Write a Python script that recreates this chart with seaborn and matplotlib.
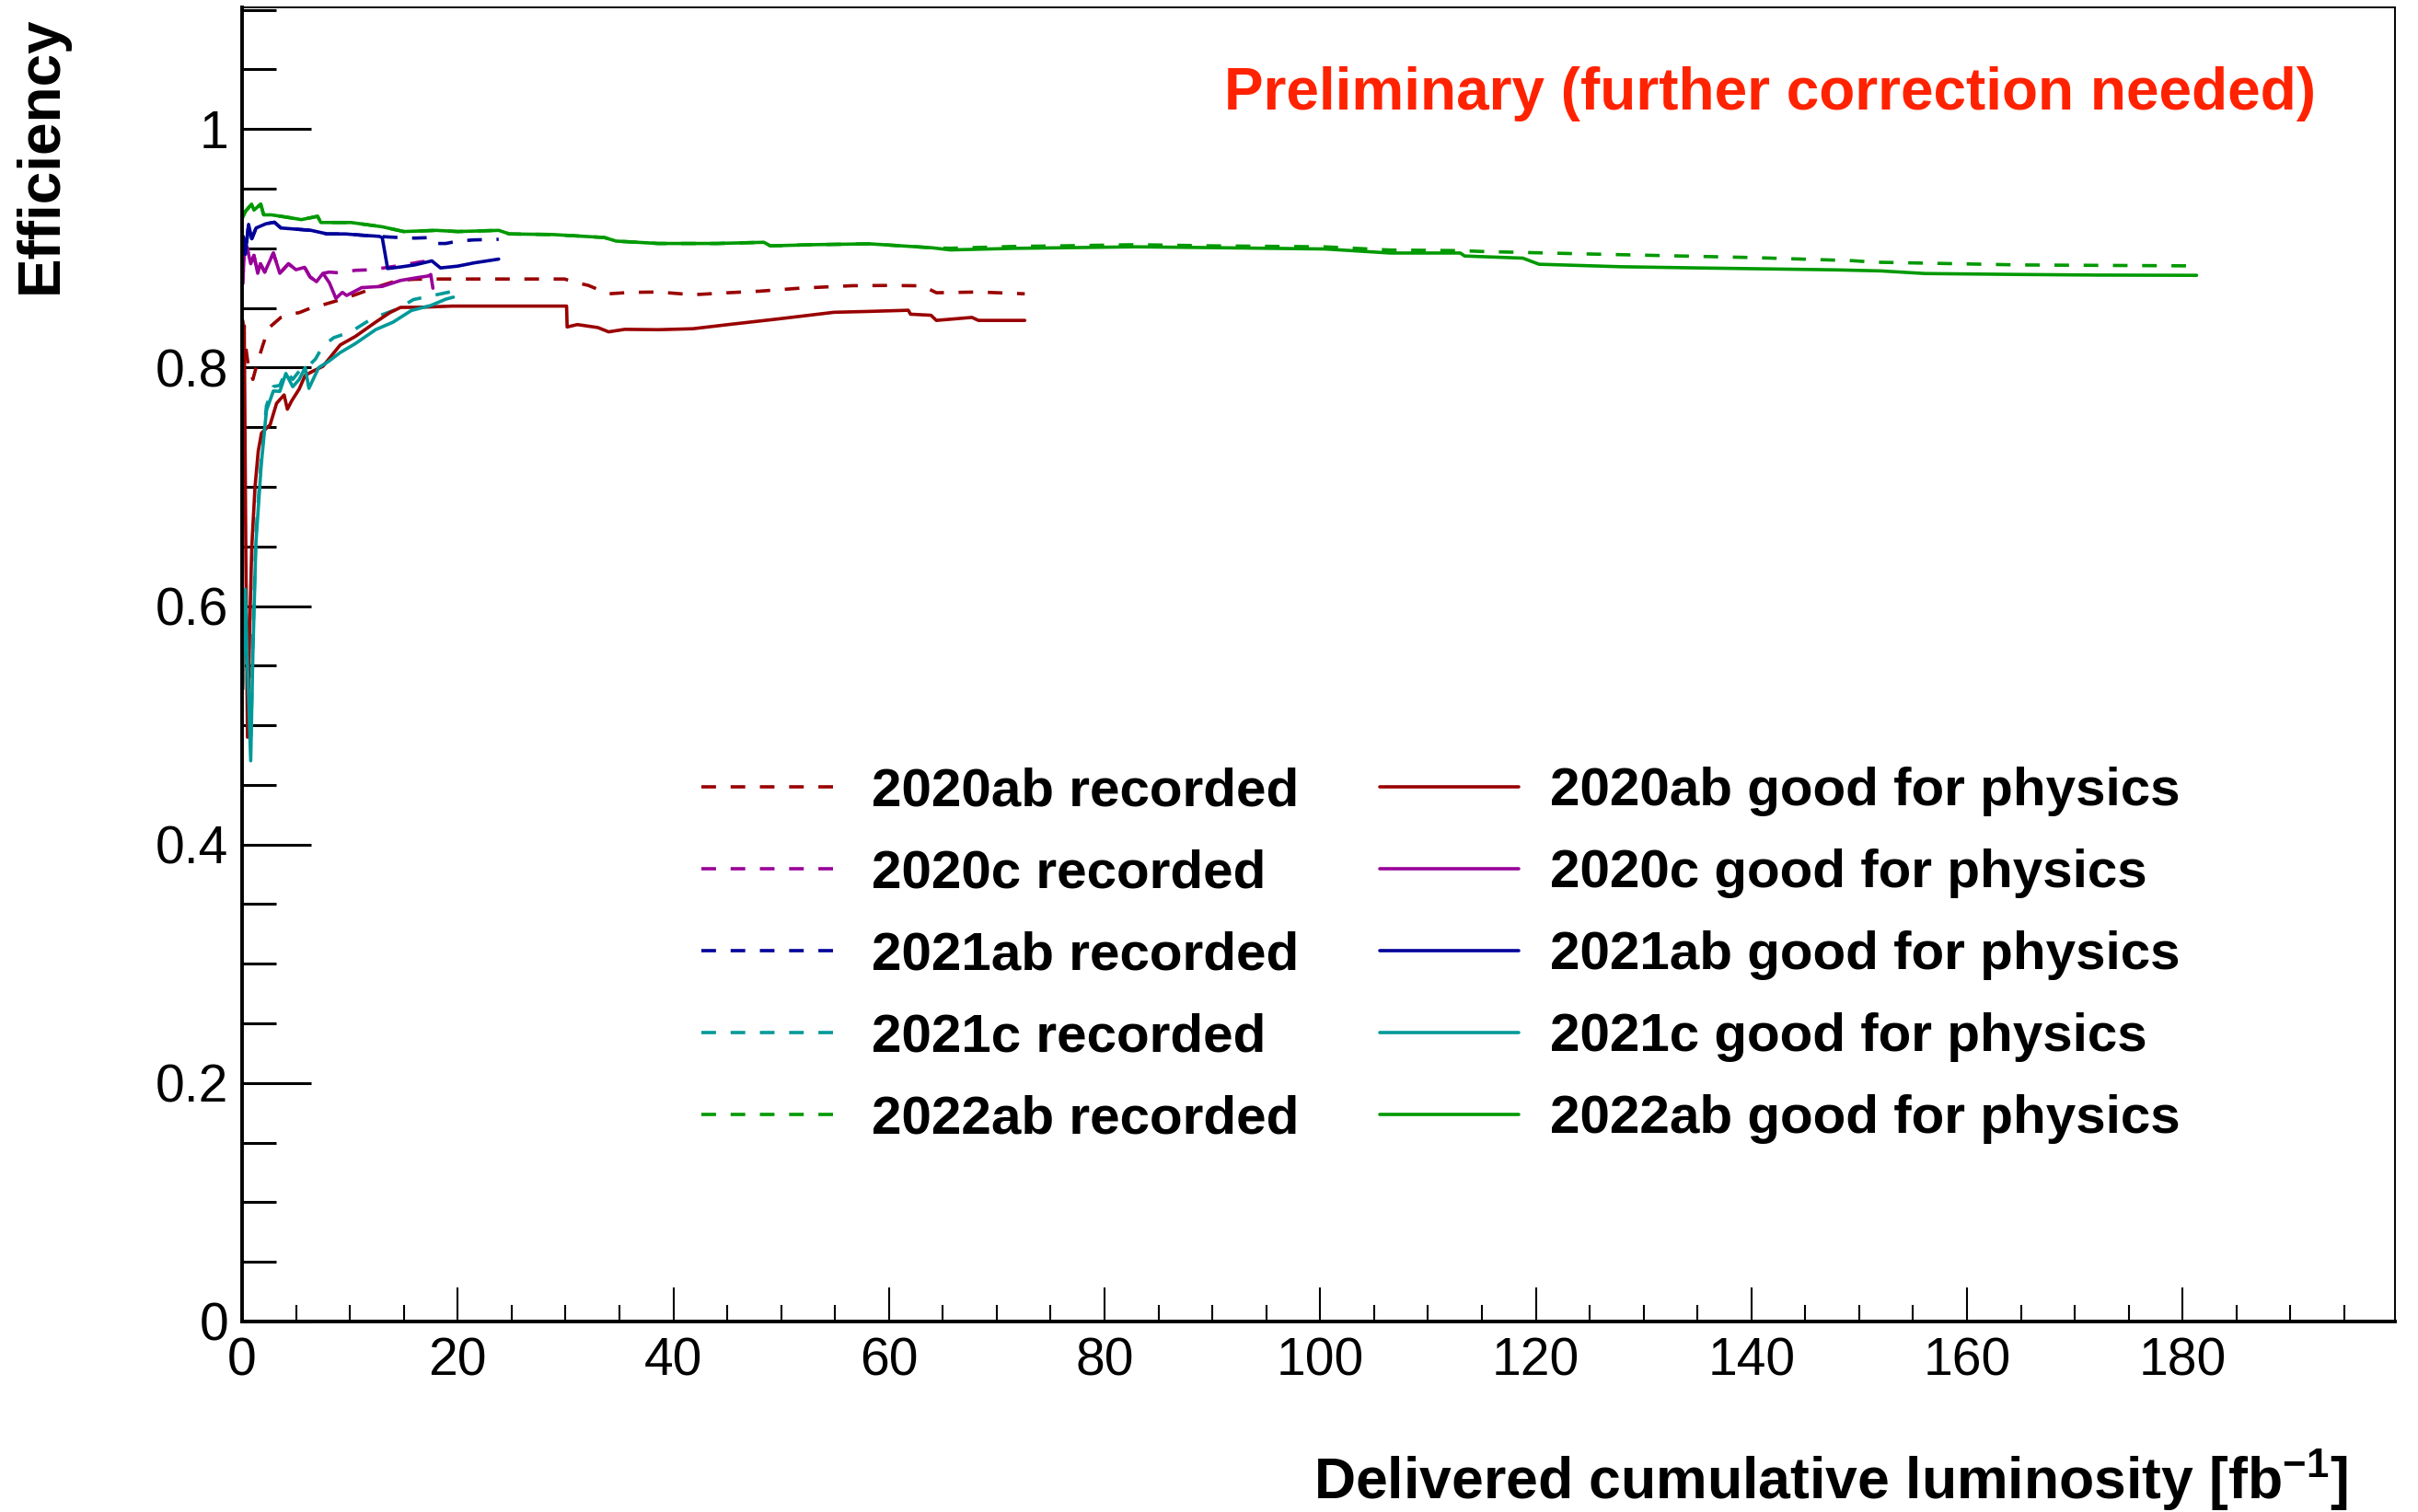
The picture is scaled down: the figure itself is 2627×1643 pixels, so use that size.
import numpy as np
import pandas as pd
import matplotlib
matplotlib.use("Agg")
import matplotlib.pyplot as plt
import seaborn as sns
from matplotlib.ticker import MultipleLocator, FuncFormatter

# ---------------- data ----------------
labels_run = ["2020ab", "2020c", "2021ab", "2021c", "2022ab"]
colors_run = ["#990000", "#990099", "#000099", "#009999", "#009900"]

# 2020ab
x_2020ab_rec = [0.05, 0.3, 0.6, 1.0, 1.45, 1.9, 2.45, 3.6, 4.4, 5.3, 6.4, 7.3, 8.8, 10.5, 12.4, 14.4,
                16.0, 17.6, 29.9, 31.1, 32.1, 34.0, 36.0, 38.6, 41.8, 45.1, 48.0, 51.7, 56.6, 60.0,
                63.1, 64.4, 68.3, 72.6]
y_2020ab_rec = [0.84, 0.82, 0.80, 0.79, 0.805, 0.818, 0.833, 0.842, 0.8447, 0.846, 0.850, 0.852, 0.856,
                0.861, 0.8672, 0.873, 0.874, 0.8742, 0.8742, 0.871, 0.8689, 0.8618, 0.863, 0.8633,
                0.861, 0.8627, 0.864, 0.8665, 0.8686, 0.8688, 0.8685, 0.8627, 0.8633, 0.8618]
x_2020ab_good = [0.05, 0.2, 0.35, 0.5, 0.7, 0.9, 1.2, 1.5, 1.8, 2.6, 3.2, 3.9, 4.2, 4.6, 5.3,
                 5.85, 6.5, 7.5, 9.1, 10.5, 12.4, 13.7, 14.7, 16.5, 18.0, 19.5, 30.1, 30.15, 31.1,
                 33.0, 34.0, 35.5, 38.6, 41.8, 45.1, 49.7, 54.9, 58.0, 61.8, 62.0, 63.9, 64.4, 67.7,
                 68.3, 72.6]
y_2020ab_good = [0.80, 0.835, 0.64, 0.49, 0.58, 0.65, 0.70, 0.73, 0.745, 0.752, 0.770, 0.777,
                 0.765, 0.772, 0.782, 0.7934, 0.7966, 0.801, 0.8189, 0.826, 0.8381, 0.846, 0.8504,
                 0.8505, 0.851, 0.8515, 0.8515, 0.834, 0.836, 0.8335, 0.8299, 0.832, 0.8317, 0.8325,
                 0.836, 0.8407, 0.8463, 0.847, 0.848, 0.8447, 0.8438, 0.8395, 0.842, 0.8395, 0.8395]

# 2020c
x_2020c_good = [0.05, 0.2, 0.45, 0.8, 1.1, 1.45, 1.7, 2.1, 2.9, 3.5, 4.3, 5.0, 5.8, 6.3, 6.9, 7.5,
                8.1, 8.7, 9.3, 9.7, 11.1, 13.0, 14.7, 16.0, 17.3, 17.5, 17.7]
y_2020c_good = [0.87, 0.895, 0.901, 0.887, 0.894, 0.879, 0.887, 0.880, 0.896, 0.879, 0.887, 0.882,
                0.884, 0.876, 0.872, 0.879, 0.871, 0.858, 0.863, 0.8604, 0.867, 0.868, 0.873, 0.875,
                0.8768, 0.878, 0.8665]
x_2020c_rec = [0.05, 0.2, 0.45, 0.8, 1.1, 1.45, 1.7, 2.1, 2.9, 3.5, 4.3, 5.0, 5.8, 6.3, 6.9, 7.5,
               8.1, 9.1, 10.5, 12.1, 13.5, 15.0, 16.5, 17.6]
y_2020c_rec = [0.87, 0.895, 0.901, 0.887, 0.894, 0.879, 0.887, 0.880, 0.896, 0.879, 0.887, 0.882,
               0.884, 0.876, 0.872, 0.879, 0.880, 0.8793, 0.8815, 0.882, 0.884, 0.886, 0.8885, 0.8896]

# 2021ab
x_2021ab_good = [0.1, 0.3, 0.6, 0.9, 1.3, 2.2, 3.0, 3.6, 5.0, 6.4, 7.9, 9.6, 11.0, 12.7, 13.0, 13.5,
                 14.7, 16.0, 17.6, 18.4, 20.0, 21.5, 23.8]
y_2021ab_good = [0.91, 0.895, 0.92, 0.908, 0.917, 0.9205, 0.9218, 0.917, 0.916, 0.915, 0.912, 0.912,
                 0.911, 0.910, 0.909, 0.883, 0.8843, 0.886, 0.8894, 0.8835, 0.885, 0.8877, 0.8909]
x_2021ab_rec = [0.1, 0.3, 0.6, 0.9, 1.3, 2.2, 3.0, 3.6, 5.0, 6.4, 7.9, 9.6, 11.0, 12.7, 13.5, 14.5,
                16.0, 17.6, 18.0, 18.9, 20.0, 21.5, 23.8]
y_2021ab_rec = [0.91, 0.895, 0.92, 0.908, 0.917, 0.9205, 0.9218, 0.917, 0.916, 0.915, 0.912, 0.912,
                0.911, 0.910, 0.9095, 0.909, 0.9085, 0.909, 0.904, 0.904, 0.906, 0.907, 0.9075]

# 2021c
x_2021c_good = [0.05, 0.3, 0.5, 0.8, 1.0, 1.28, 1.77, 2.26, 2.9, 3.5, 4.06, 4.7, 5.3, 5.85, 6.2, 7.1,
                8.0, 9.1, 10.5, 12.4, 14.0, 15.7, 17.5, 18.9, 19.6]
y_2021c_good = [0.53, 0.614, 0.55, 0.4702, 0.56, 0.6526, 0.7178, 0.764, 0.7803, 0.78, 0.795, 0.7839,
                0.79, 0.7999, 0.7825, 0.7999, 0.805, 0.8125, 0.82, 0.8318, 0.838, 0.8478, 0.852,
                0.8573, 0.859]
x_2021c_rec = [0.05, 0.3, 0.5, 0.8, 1.0, 1.28, 1.77, 2.26, 2.9, 3.5, 4.06, 4.7, 5.3, 6.0, 6.8, 7.5,
               8.5, 10.1, 12.1, 14.4, 15.9, 17.5, 19.4]
y_2021c_rec = [0.53, 0.61, 0.56, 0.48, 0.57, 0.66, 0.722, 0.768, 0.784, 0.785, 0.797, 0.79, 0.797,
               0.80, 0.807, 0.818, 0.825, 0.830, 0.8413, 0.849, 0.857, 0.860, 0.8636]

# 2022ab
x_2022ab_good = [0.0, 0.3, 0.88, 1.1, 1.73, 2.0, 2.73, 4.44, 5.5, 7.0, 7.3, 10.1, 13.0, 15.0, 18.0,
                 20.0, 23.8, 24.8, 28.8, 33.6, 34.7, 38.6, 44.0, 48.4, 49.0, 53.0, 58.2, 64.0, 65.7,
                 71.5, 76.0, 82.9, 90.0, 100.4, 106.5, 113.0, 113.4, 118.8, 120.3, 127.9, 135.0,
                 147.7, 152.0, 156.1, 165.0, 172.0, 181.3]
y_2022ab_good = [0.925, 0.9308, 0.937, 0.932, 0.937, 0.928, 0.928, 0.9256, 0.924, 0.9268, 0.9216,
                 0.9216, 0.918, 0.914, 0.915, 0.914, 0.915, 0.912, 0.9115, 0.909, 0.906, 0.904,
                 0.904, 0.905, 0.902, 0.903, 0.9037, 0.9004, 0.8986, 0.8999, 0.9004, 0.9012, 0.9005,
                 0.8994, 0.896, 0.896, 0.8935, 0.8917, 0.8866, 0.8845, 0.8835, 0.8819, 0.881, 0.8788,
                 0.878, 0.8775, 0.8773]
x_2022ab_rec = [0.0, 0.3, 0.88, 1.1, 1.73, 2.0, 2.73, 4.44, 5.5, 7.0, 7.3, 10.1, 13.0, 15.0, 18.0,
                20.0, 23.8, 24.8, 28.8, 33.6, 34.7, 38.6, 44.0, 48.4, 49.0, 53.0, 58.2, 64.0, 65.7,
                71.5, 76.0, 82.9, 90.0, 100.4, 106.5, 113.0, 115.0, 124.9, 140.1, 149.3, 151.5,
                165.0, 181.3]
y_2022ab_rec = [0.925, 0.9308, 0.937, 0.932, 0.937, 0.928, 0.928, 0.9256, 0.924, 0.9268, 0.9216,
                0.9216, 0.918, 0.914, 0.915, 0.914, 0.915, 0.912, 0.9115, 0.909, 0.906, 0.904,
                0.904, 0.905, 0.902, 0.903, 0.9037, 0.9004, 0.9, 0.9015, 0.902, 0.903, 0.902,
                0.9012, 0.8985, 0.898, 0.8973, 0.8952, 0.8922, 0.8896, 0.8883, 0.886, 0.8852]

x_rec = [x_2020ab_rec, x_2020c_rec, x_2021ab_rec, x_2021c_rec, x_2022ab_rec]
y_rec = [y_2020ab_rec, y_2020c_rec, y_2021ab_rec, y_2021c_rec, y_2022ab_rec]
x_good = [x_2020ab_good, x_2020c_good, x_2021ab_good, x_2021c_good, x_2022ab_good]
y_good = [y_2020ab_good, y_2020c_good, y_2021ab_good, y_2021c_good, y_2022ab_good]

# ---------------- style ----------------
sns.set_theme(style="white")
plt.rcParams["font.family"] = ["Liberation Sans", "DejaVu Sans"]
plt.rcParams["mathtext.fontset"] = "custom"
plt.rcParams["mathtext.rm"] = "Liberation Sans"
plt.rcParams["mathtext.bf"] = "Liberation Sans:bold"
plt.rcParams["axes.edgecolor"] = "black"
plt.rcParams["text.color"] = "black"
plt.rcParams["axes.labelcolor"] = "black"
plt.rcParams["xtick.color"] = "black"
plt.rcParams["ytick.color"] = "black"
plt.rcParams["legend.labelcolor"] = "black"

fig = plt.figure(figsize=(26.27, 16.43), dpi=100)
ax = fig.add_axes([0.10012, 0.12599, 0.89037, 0.86914])

LW = 2.6
DASH = [4.4, 4.4]

rec_lines = []
good_lines = []
for name, c, xs, ys in zip(labels_run, colors_run, x_rec, y_rec):
    df = pd.DataFrame({"lumi": xs, "eff": ys})
    sns.lineplot(data=df, x="lumi", y="eff", ax=ax, color=c, lw=LW, estimator=None,
                 sort=False, legend=False)
    ln = ax.get_lines()[-1]
    ln.set_dashes(DASH)
    ln.set_label(f"{name} recorded")
    rec_lines.append(ln)
for name, c, xs, ys in zip(labels_run, colors_run, x_good, y_good):
    df = pd.DataFrame({"lumi": xs, "eff": ys})
    sns.lineplot(data=df, x="lumi", y="eff", ax=ax, color=c, lw=LW, estimator=None,
                 sort=False, legend=False)
    ln = ax.get_lines()[-1]
    ln.set_label(f"{name} good for physics")
    good_lines.append(ln)

ax.set_xlim(0, 199.7)
ax.set_ylim(0, 1.102)

ax.xaxis.set_major_locator(MultipleLocator(20))
ax.xaxis.set_minor_locator(MultipleLocator(5))
ax.yaxis.set_major_locator(MultipleLocator(0.2))
ax.yaxis.set_minor_locator(MultipleLocator(0.05))


def yfmt(v, pos):
    if abs(v) < 1e-9:
        return "0"
    if abs(v - 1) < 1e-9:
        return "1"
    return f"{v:.1f}"


ax.yaxis.set_major_formatter(FuncFormatter(yfmt))
ax.xaxis.set_major_formatter(FuncFormatter(lambda v, p: f"{v:.0f}"))

ax.tick_params(axis="y", which="major", direction="in", length=54, width=2.2,
               labelsize=41, pad=10.8, left=True, right=False, colors="black")
ax.tick_params(axis="y", which="minor", direction="in", length=26.6, width=2.2,
               left=True, right=False)
ax.tick_params(axis="x", which="major", direction="in", length=27, width=1.5,
               labelsize=41, pad=12, bottom=True, top=False, colors="black")
ax.tick_params(axis="x", which="minor", direction="in", length=13, width=1.5,
               bottom=True, top=False)

for s in ["left", "bottom"]:
    ax.spines[s].set_linewidth(2.8)
for s in ["top", "right"]:
    ax.spines[s].set_linewidth(1.4)
for s in ax.spines.values():
    s.set_color("black")
ax.grid(False)

ax.set_ylabel("Efficiency", fontsize=46, fontweight="bold", loc="top", color="black")
ax.yaxis.set_label_coords(-0.0804, 0.9937)
ax.set_xlabel(r"Delivered cumulative luminosity [fb$^{\mathbf{-1}}$]", fontsize=45,
              fontweight="bold", loc="right", color="black")
ax.xaxis.set_label_coords(0.978, -0.0955)

ax.text(0.9633, 0.9342, "Preliminary (further correction needed)", transform=ax.transAxes,
        ha="right", va="center", color="#ff2200", fontsize=46, fontweight="bold")

handles = rec_lines + good_lines
leg = ax.legend(handles=handles, labels=[h.get_label() for h in handles], ncol=2,
                loc="upper left", bbox_to_anchor=(0.290, 0.493), bbox_transform=fig.transFigure,
                frameon=False, prop={"family": ["Liberation Sans"], "weight": "bold", "size": 42},
                handlelength=2.59, handletextpad=0.58, columnspacing=1.5, labelspacing=0.6,
                borderpad=0, borderaxespad=0)
for t in leg.get_texts():
    t.set_color("black")

fig.savefig("out.png", dpi=100)
